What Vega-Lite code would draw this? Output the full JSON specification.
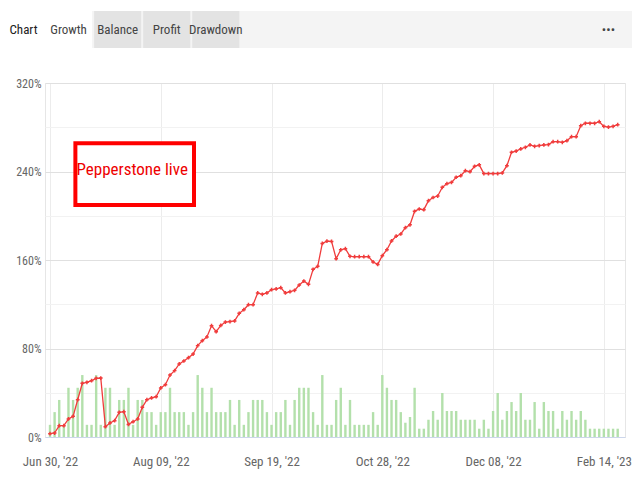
{
  "$schema": "https://vega.github.io/schema/vega-lite/v6.json",
  "background": "#ffffff",
  "padding": {"left": 9, "top": 11, "right": 0, "bottom": 0},
  "spacing": 28,
  "config": {
    "font": "'Roboto Condensed', 'Liberation Sans Narrow', 'DejaVu Sans Condensed', Roboto, sans-serif"
  },
  "datasets": {
    "tabs": [
      {"tab": "Growth", "state": "active"},
      {"tab": "Balance", "state": "inactive"},
      {"tab": "Profit", "state": "inactive"},
      {"tab": "Drawdown", "state": "inactive"},
      {"tab": "•••", "state": "menu"}
    ],
    "note": [
      {"note": "Pepperstone live"}
    ],
    "growth": [
      {"i":0,"g":3.0,"v":11},{"i":1,"g":3.6,"v":22.5},{"i":2,"g":10.2,"v":33.5},{"i":3,"g":10.2,"v":11},
      {"i":4,"g":16.3,"v":44.5},{"i":5,"g":18.7,"v":33.5},{"i":6,"g":33.7,"v":44.5},{"i":7,"g":48.5,"v":56},
      {"i":8,"g":49.4,"v":11},{"i":9,"g":50.9,"v":11},{"i":10,"g":53.0,"v":56},{"i":11,"g":53.3,"v":11},
      {"i":12,"g":9.3,"v":44.5},{"i":13,"g":12.7,"v":44.5},{"i":14,"g":14.8,"v":11},{"i":15,"g":22.3,"v":33.5},
      {"i":16,"g":22.9,"v":33.5},{"i":17,"g":11.4,"v":44.5},{"i":18,"g":13.8,"v":11},{"i":19,"g":16.3,"v":33.5},
      {"i":20,"g":26.8,"v":33.5},{"i":21,"g":33.7,"v":22.5},{"i":22,"g":35.3,"v":22.5},{"i":23,"g":36.4,"v":11},
      {"i":24,"g":44.3,"v":22.5},{"i":25,"g":47.3,"v":22.5},{"i":26,"g":56.0,"v":44.5},{"i":27,"g":60.0,"v":22.5},
      {"i":28,"g":66.0,"v":22.5},{"i":29,"g":68.7,"v":22.5},{"i":30,"g":71.7,"v":11},{"i":31,"g":75.0,"v":22.5},
      {"i":32,"g":82.6,"v":56},{"i":33,"g":87.1,"v":44.5},{"i":34,"g":90.5,"v":22.5},{"i":35,"g":100.6,"v":44.5},
      {"i":36,"g":95.2,"v":22.5},{"i":37,"g":100.9,"v":22.5},{"i":38,"g":103.9,"v":22.5},{"i":39,"g":104.3,"v":33.5},
      {"i":40,"g":104.9,"v":11},{"i":41,"g":111.8,"v":33.5},{"i":42,"g":115.1,"v":11},{"i":43,"g":119.6,"v":22.5},
      {"i":44,"g":119.6,"v":33.5},{"i":45,"g":130.2,"v":33.5},{"i":46,"g":129.0,"v":33.5},{"i":47,"g":130.2,"v":22.5},
      {"i":48,"g":133.2,"v":11},{"i":49,"g":133.8,"v":22.5},{"i":50,"g":135.0,"v":22.5},{"i":51,"g":130.2,"v":33.5},
      {"i":52,"g":131.4,"v":11},{"i":53,"g":132.6,"v":33.5},{"i":54,"g":137.4,"v":44.5},{"i":55,"g":141.0,"v":44.5},
      {"i":56,"g":138.0,"v":44.5},{"i":57,"g":151.6,"v":22.5},{"i":58,"g":154.3,"v":11},{"i":59,"g":175.0,"v":56},
      {"i":60,"g":177.0,"v":11},{"i":61,"g":176.8,"v":11},{"i":62,"g":161.2,"v":33.5},{"i":63,"g":169.2,"v":44.5},
      {"i":64,"g":170.2,"v":11},{"i":65,"g":163.3,"v":33.5},{"i":66,"g":163.0,"v":11},{"i":67,"g":163.0,"v":11},
      {"i":68,"g":163.0,"v":11},{"i":69,"g":163.0,"v":11},{"i":70,"g":158.2,"v":22.5},{"i":71,"g":156.0,"v":11},
      {"i":72,"g":163.9,"v":56},{"i":73,"g":169.3,"v":44.5},{"i":74,"g":177.2,"v":33.5},{"i":75,"g":181.5,"v":33.5},
      {"i":76,"g":183.5,"v":22.5},{"i":77,"g":189.2,"v":12.9},{"i":78,"g":191.8,"v":18.1},{"i":79,"g":204.0,"v":44.5},
      {"i":80,"g":206.1,"v":7.5},{"i":81,"g":205.5,"v":7.5},{"i":82,"g":213.6,"v":15.6},{"i":83,"g":216.5,"v":23.5},
      {"i":84,"g":217.8,"v":15.6},{"i":85,"g":225.7,"v":39.8},{"i":86,"g":229.0,"v":23.5},{"i":87,"g":230.2,"v":23.5},
      {"i":88,"g":234.8,"v":23.5},{"i":89,"g":236.2,"v":15.6},{"i":90,"g":240.7,"v":15.6},{"i":91,"g":239.8,"v":15.6},
      {"i":92,"g":244.7,"v":15.6},{"i":93,"g":246.0,"v":7.5},{"i":94,"g":238.1,"v":15.6},{"i":95,"g":238.1,"v":7.5},
      {"i":96,"g":238.1,"v":23.5},{"i":97,"g":238.1,"v":39.8},{"i":98,"g":238.7,"v":15.6},{"i":99,"g":245.3,"v":23.5},
      {"i":100,"g":257.4,"v":31.6},{"i":101,"g":258.5,"v":23.5},{"i":102,"g":260.4,"v":39.8},{"i":103,"g":261.9,"v":15.6},
      {"i":104,"g":264.0,"v":15.6},{"i":105,"g":262.8,"v":31.6},{"i":106,"g":263.4,"v":7.5},{"i":107,"g":264.0,"v":31.6},
      {"i":108,"g":264.3,"v":23.5},{"i":109,"g":267.0,"v":23.5},{"i":110,"g":267.0,"v":7.5},{"i":111,"g":266.4,"v":23.5},
      {"i":112,"g":267.9,"v":15.6},{"i":113,"g":271.5,"v":23.5},{"i":114,"g":271.5,"v":15.6},{"i":115,"g":281.4,"v":23.5},
      {"i":116,"g":283.6,"v":15.6},{"i":117,"g":283.6,"v":7.5},{"i":118,"g":283.6,"v":7.5},{"i":119,"g":285.0,"v":7.5},
      {"i":120,"g":280.8,"v":7.5},{"i":121,"g":280.2,"v":7.5},{"i":122,"g":280.8,"v":7.5},{"i":123,"g":282.3,"v":7.5}
    ]
  },
  "vconcat": [
    {
      "width": 587,
      "height": 37,
      "view": {"fill": "#f4f4f4", "stroke": null},
      "data": {"name": "tabs"},
      "encoding": {
        "x": {
          "field": "tab", "type": "nominal", "sort": null,
          "scale": {"domain": ["Growth", "Balance", "Profit", "Drawdown", "_1", "_2", "_3", "_4", "_5", "_6", "_7", "•••"], "paddingInner": 0.04, "paddingOuter": 0},
          "axis": null
        },
        "y": {
          "datum": "Chart", "type": "nominal",
          "scale": {"paddingInner": 0, "paddingOuter": 0},
          "axis": {"title": null, "domain": false, "ticks": false, "labelPadding": 8, "labelFontSize": 13, "labelColor": "#222222", "grid": false}
        }
      },
      "layer": [
        {
          "mark": {"type": "rect"},
          "encoding": {
            "color": {"field": "state", "type": "nominal", "scale": {"domain": ["active", "inactive", "menu"], "range": ["#ffffff", "#e3e3e3", "#f4f4f4"]}, "legend": null}
          }
        },
        {
          "mark": {"type": "text", "fontSize": 13, "color": "#444444"},
          "encoding": {"text": {"field": "tab"}}
        }
      ]
    },
    {
      "width": 580,
      "height": 354,
      "view": {"stroke": "#e6e6e6"},
      "layer": [
        {
          "data": {"name": "growth"},
          "mark": {"type": "bar", "color": "#b3e0ab", "size": 2.4},
          "encoding": {
            "x": {
              "field": "i", "type": "quantitative",
              "scale": {"domain": [0, 123.5], "nice": false, "zero": false},
              "axis": {
                "title": null, "values": [0, 24, 48, 72, 96, 120],
                "labelExpr": "datum.value == 0 ? \"Jun 30, '22\" : datum.value == 24 ? \"Aug 09, '22\" : datum.value == 48 ? \"Sep 19, '22\" : datum.value == 72 ? \"Oct 28, '22\" : datum.value == 96 ? \"Dec 08, '22\" : \"Feb 14, '23\"",
                "grid": true, "gridColor": "#ececec", "ticks": false,
                "domainColor": "#ccd6eb", "labelColor": "#666666", "labelFontSize": 13, "labelPadding": 18
              }
            },
            "y": {"field": "v", "type": "quantitative"}
          }
        },
        {
          "data": {"name": "growth"},
          "mark": {"type": "line", "color": "#f03c3c", "strokeWidth": 1.3, "point": {"shape": "cross", "size": 14, "filled": true, "color": "#f03c3c"}},
          "encoding": {
            "x": {"field": "i", "type": "quantitative"},
            "y": {
              "field": "g", "type": "quantitative",
              "scale": {"domain": [0, 320], "nice": false},
              "axis": {
                "title": null, "values": [0,20,40,60,80,100,120,140,160,180,200,220,240,260,280,300,320],
                "labelExpr": "datum.value % 80 === 0 ? datum.value + '%' : ''",
                "gridColor": {"condition": {"test": "datum.value % 80 === 0", "value": "#e0e0e0"}, "value": "#f2f2f2"},
                "ticks": false, "domain": false, "labelColor": "#666666", "labelFontSize": 12, "labelPadding": 4
              }
            }
          }
        },
        {
          "data": {"name": "note"},
          "mark": {"type": "rect", "fill": "#ffffff", "stroke": "#ff0000", "strokeWidth": 4},
          "encoding": {
            "x": {"datum": 5.5},
            "x2": {"datum": 31.2},
            "y": {"datum": 265.5},
            "y2": {"datum": 209.8}
          }
        },
        {
          "data": {"name": "note"},
          "mark": {"type": "text", "color": "#ee0000", "fontSize": 17, "align": "center", "baseline": "middle"},
          "encoding": {
            "x": {"datum": 17.8},
            "y": {"datum": 241.4},
            "text": {"field": "note"}
          }
        }
      ]
    }
  ]
}
